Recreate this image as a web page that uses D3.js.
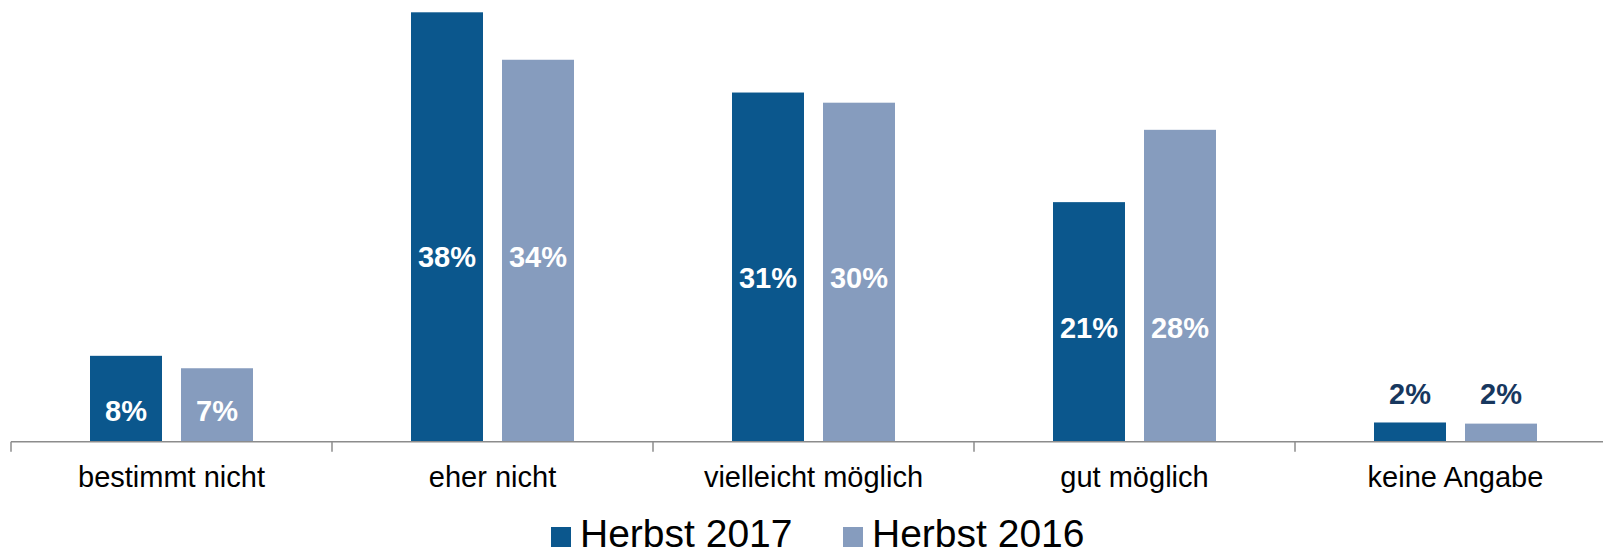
<!DOCTYPE html>
<html>
<head>
<meta charset="utf-8">
<script src="https://cdn.jsdelivr.net/npm/d3@7"></script>
<style>
  body { margin: 0; background: #fff; }
  svg { display: block; font-family: Arial, "Liberation Sans", sans-serif; }
</style>
</head>
<body>
<div id="chart"></div>
<script>
var categories = ['bestimmt nicht', 'eher nicht', 'vielleicht möglich', 'gut möglich', 'keine Angabe'],
    seriesNames = ['Herbst 2017', 'Herbst 2016'],
    values2017 = [7.6, 38.0, 30.9, 21.2, 1.7],
    values2016 = [6.5, 33.8, 30.0, 27.6, 1.6],
    seriesColors = ['#0b578d', '#869cbe'];

var WIDTH = 1603,
    HEIGHT = 555,
    AXIS_Y = 441.7,
    LEFT = 11,
    STEP = 321; // width of one category

var rows = categories.map(function (c, i) {
  return { cat: c, vals: [values2017[i], values2016[i]] };
});

var svg = d3.select('#chart')
  .append('svg')
  .attr('width', WIDTH)
  .attr('height', HEIGHT);

var x0 = d3.scaleBand()
  .domain(categories)
  .range([LEFT, LEFT + STEP * categories.length]);

var x1 = d3.scaleBand()
  .domain(seriesNames)
  .range([79, 242])
  .paddingInner(19 / 91);

var y = d3.scaleLinear()
  .domain([0, 38])
  .range([AXIS_Y, 12.3]);

// bars
var groups = svg.selectAll('g.cat')
  .data(rows)
  .enter()
  .append('g')
  .attr('class', 'cat')
  .attr('transform', function (d) { return 'translate(' + x0(d.cat) + ',0)'; });

groups.selectAll('rect')
  .data(function (d) { return d.vals.map(function (v, i) { return { s: seriesNames[i], v: v, i: i }; }); })
  .enter()
  .append('rect')
  .attr('x', function (d) { return x1(d.s); })
  .attr('y', function (d) { return y(d.v); })
  .attr('width', x1.bandwidth())
  .attr('height', function (d) { return AXIS_Y - y(d.v); })
  .style('fill', function (d) { return seriesColors[d.i]; });

// value labels: inside the bars, on one line per pair; small ones above
groups.each(function (row) {
  var g = d3.select(this),
      minV = d3.min(row.vals),
      small = minV < 4,
      labelY = small ? y(d3.max(row.vals)) - 18 : (y(minV) + AXIS_Y) / 2 + 16;
  g.selectAll('text.val')
    .data(row.vals)
    .enter()
    .append('text')
    .attr('class', 'val')
    .attr('x', function (v, i) { return x1(seriesNames[i]) + x1.bandwidth() / 2; })
    .attr('y', labelY)
    .attr('text-anchor', 'middle')
    .style('font-size', '29px')
    .style('font-weight', 'bold')
    .style('fill', small ? '#17375e' : '#fff')
    .text(function (v) { return Math.round(v) + '%'; });
});

// axis line and boundary ticks
svg.append('line')
  .attr('x1', LEFT).attr('x2', WIDTH)
  .attr('y1', AXIS_Y).attr('y2', AXIS_Y)
  .attr('stroke', '#8c8c8c')
  .attr('stroke-width', 1.5);

svg.selectAll('line.tick')
  .data(categories)
  .enter()
  .append('line')
  .attr('class', 'tick')
  .attr('x1', function (d) { return x0(d); })
  .attr('x2', function (d) { return x0(d); })
  .attr('y1', AXIS_Y).attr('y2', AXIS_Y + 10)
  .attr('stroke', '#8c8c8c')
  .attr('stroke-width', 1.5);

var xAxis = svg.append('g')
  .attr('transform', 'translate(0,' + AXIS_Y + ')')
  .call(d3.axisBottom(x0).tickSize(0).tickPadding(0));
xAxis.select('.domain').remove();
xAxis.selectAll('text')
  .attr('dy', null)
  .attr('y', 45)
  .style('font-family', 'Arial, "Liberation Sans", sans-serif')
  .style('font-size', '29px')
  .style('fill', '#000');

// legend
var legendX = [551, 843];
var legend = svg.selectAll('g.legend')
  .data(seriesNames)
  .enter()
  .append('g')
  .attr('class', 'legend')
  .attr('transform', function (d, i) { return 'translate(' + legendX[i] + ',527)'; });

legend.append('rect')
  .attr('width', 20)
  .attr('height', 20)
  .style('fill', function (d, i) { return seriesColors[i]; });

legend.append('text')
  .attr('x', 29)
  .attr('y', 20)
  .style('font-size', '39px')
  .style('fill', '#000')
  .text(function (d) { return d; });
</script>
</body>
</html>
